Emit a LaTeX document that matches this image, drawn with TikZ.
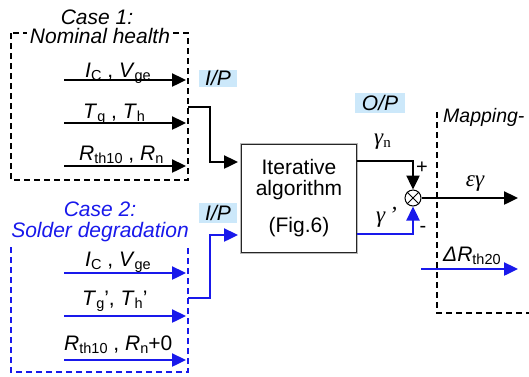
\documentclass[tikz,border=0pt]{standalone}
\usepackage{fontspec}
\setmainfont{Liberation Sans}
\newfontfamily\tnr{Liberation Serif}
\usetikzlibrary{arrows.meta,calc}
\definecolor{myblue}{RGB}{25,25,235}
\definecolor{iplight}{RGB}{204,232,250}
\newcommand\sbs[1]{\raisebox{-0.3ex}{\fontsize{14.5}{14.5}\selectfont\upshape #1}}
\newcommand\tsub[1]{\raisebox{-0.3ex}{\fontsize{15}{15}\selectfont\tnr\upshape #1}}
\begin{document}
\begin{tikzpicture}[x=1pt,y=-1pt,
  txt/.style={font=\fontsize{21}{23}\selectfont, inner sep=0pt},
  itx/.style={txt, font=\fontsize{21}{23}\selectfont\itshape},
  gtx/.style={txt, font=\fontsize{23}{25}\selectfont\tnr\itshape},
  arr/.style={line width=2.4pt, -{Triangle[length=14pt,width=13pt]}},
  dbox/.style={line width=1.6pt, dash pattern=on 6pt off 4pt},
  tag/.style={fill=iplight, inner sep=0pt, font=\fontsize{21}{23}\selectfont\itshape},
  lbl/.style={txt, anchor=base west}]
\useasboundingbox (0,0) rectangle (529,376);

% ---------- Case 1 ----------
\draw[dbox] (11,33) rectangle (188,180);
\node[itx, anchor=base] (c1a) at (97,24) {Case 1:};
\node[itx, anchor=base, fill=white, inner xsep=3pt] (c1b) at (100,43) {Nominal health};
\node[lbl] (l11) at (85,77) {\textit{I}\sbs{C} , \textit{V}\sbs{ge}};
\node[lbl] (l12) at (83,118) {\textit{T}\sbs{g} , \textit{T}\sbs{h}};
\node[lbl] (l13) at (79,160) {\textit{R}\sbs{th10} , \textit{R}\sbs{n}};
\coordinate (s11) at (64,80);  \coordinate (e11) at (186,80);
\coordinate (s12) at (64,123); \coordinate (e12) at (186,123);
\coordinate (s13) at (64,166); \coordinate (e13) at (186,166);
\draw[arr] (s11) -- (e11);
\draw[arr] (s12) -- (e12);
\draw[arr] (s13) -- (e13);
\node[tag, minimum width=38pt, minimum height=17pt] (ip1) at (218,78) {I/P};

% ---------- Case 2 ----------
\draw[dbox, myblue] (11,247) -- (11,372) -- (188,372) -- (188,247);
\node[itx, anchor=base, text=myblue] (c2a) at (100,216) {Case 2:};
\node[itx, anchor=base, text=myblue] (c2b) at (100,237) {Solder degradation};
\node[lbl] (l21) at (85,266) {\textit{I}\sbs{C} , \textit{V}\sbs{ge}};
\node[lbl] (l22) at (82,305) {\textit{T}\sbs{g}', \textit{T}\sbs{h}'};
\node[lbl] (l23) at (64,350) {\textit{R}\sbs{th10} , \textit{R}\sbs{n}+0};
\coordinate (s21) at (64,273); \coordinate (e21) at (186,273);
\coordinate (s22) at (64,316); \coordinate (e22) at (186,316);
\coordinate (s23) at (64,360); \coordinate (e23) at (186,360);
\draw[arr, myblue] (s21) -- (e21);
\draw[arr, myblue] (s22) -- (e22);
\draw[arr, myblue] (s23) -- (e23);
\node[tag, minimum width=38pt, minimum height=20pt] (ip2) at (218,213) {I/P};

% ---------- Algorithm ----------
\node[draw=gray!55, line width=2pt, minimum width=116pt, minimum height=109pt, inner sep=0pt] (alg) at (298.5,198) {};
\draw[gray!30!black, line width=0.6pt] ($(alg.north west)+(1.6,1.6)$) rectangle ($(alg.south east)+(-1.6,-1.6)$);
\node[txt, anchor=base] (t1) at (299,174) {Iterative};
\node[txt, anchor=base] (t2) at (299,195) {algorithm};
\node[txt, anchor=base] (t3) at (299,232) {(Fig.6)};

\coordinate (c1out) at (188,107);
\coordinate (c1in) at (238,162);
\draw[arr] (c1out) -- (210,107) -- (210,162) -- (c1in);
\coordinate (c2out) at (188,298);
\coordinate (c2in) at (238,235);
\draw[arr, myblue] (c2out) -- (210,298) -- (210,235) -- (c2in);

% ---------- Summing junction ----------
\node[draw, circle, line width=1pt, minimum size=16pt, inner sep=0pt, fill=white] (sum) at (413,198) {};
\draw[line width=0.8pt] (sum.north west) -- (sum.south east) (sum.north east) -- (sum.south west);
\coordinate (gno) at (357,161);
\coordinate (gpo) at (357,234);
\draw[arr] (gno) -| (sum.north);
\draw[arr, myblue] (gpo) -| (sum.south);
\node[gtx, anchor=base west] (gn) at (374,144) {γ\tsub{n}};
\node[gtx, anchor=base west] (gp) at (376,222) {γ\,’};
\node[txt, anchor=center, font=\fontsize{20}{20}\selectfont] (plus) at (422,168) {+};
\node[txt, anchor=center, font=\fontsize{20}{20}\selectfont] (minus) at (423,229) {-};
\coordinate (oute) at (518,198);
\draw[arr] (sum.east) -- (oute);
\node[gtx, anchor=base] (eg) at (475,186) {εγ};
\node[tag, minimum width=50pt, minimum height=20pt] (op) at (380,103) {O/P};

% ---------- Mapping ----------
\draw[dbox] (437,112) -- (437,313) -- (529,313);
\node[txt, anchor=base west, font=\fontsize{19.5}{21}\selectfont\itshape] (map) at (443,122) {Mapping-};
\coordinate (ds) at (421,269); \coordinate (de) at (518,269);
\draw[arr, myblue] (ds) -- (de);
\node[lbl] (dr) at (443,261) {\textit{ΔR}\sbs{th20}};
\end{tikzpicture}
\end{document}
